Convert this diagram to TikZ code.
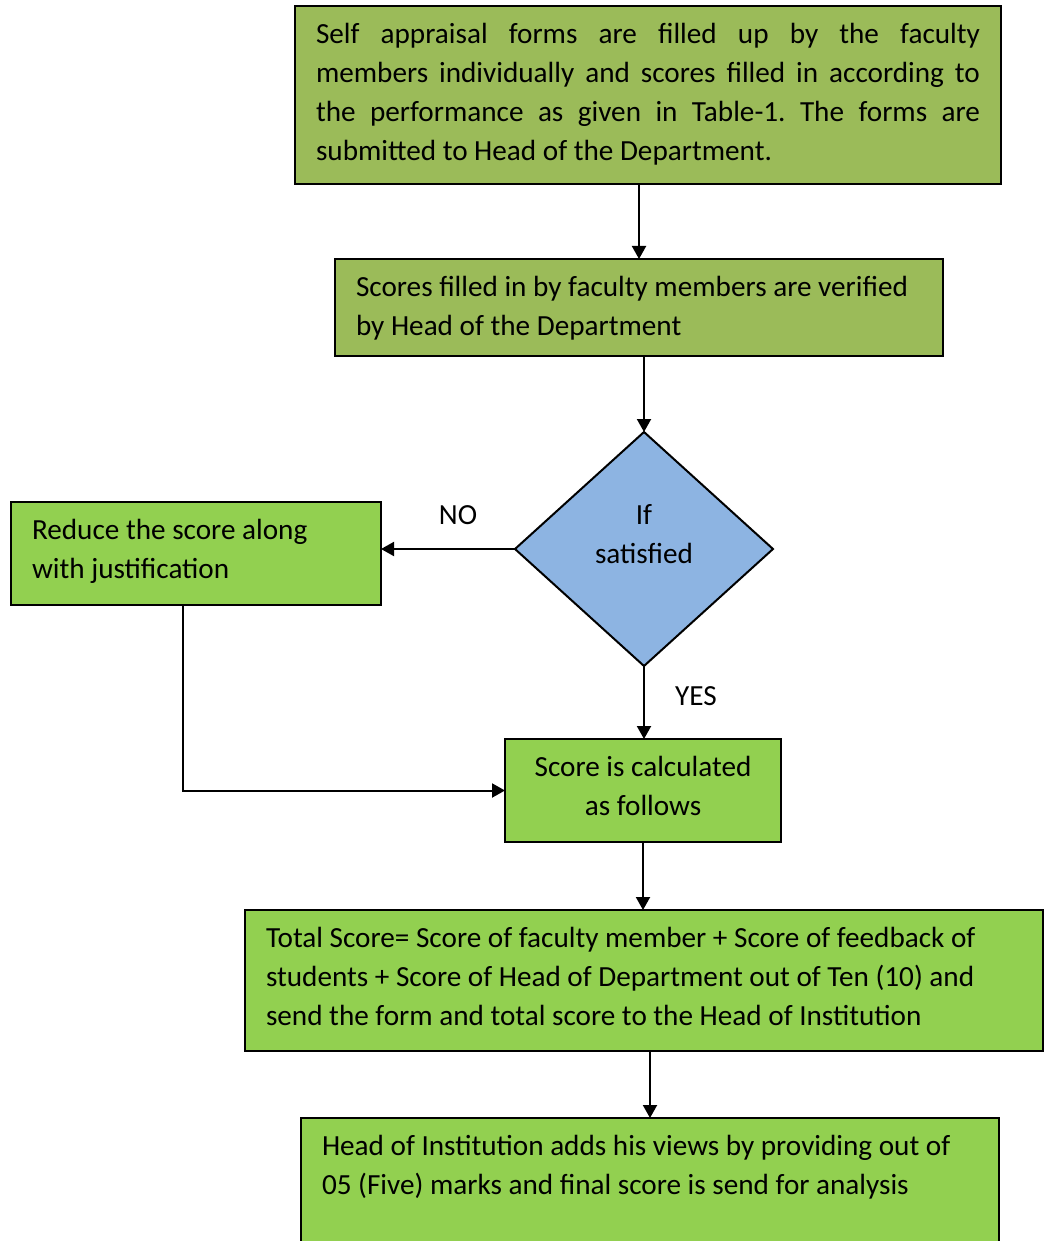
\documentclass[tikz,border=0pt]{standalone}
\usepackage{fontspec}
\setmainfont{Carlito}
\usetikzlibrary{arrows.meta,shapes.geometric}
\definecolor{olivegreen}{HTML}{9BBB59}
\definecolor{lightgreen}{HTML}{92D050}
\definecolor{diablue}{HTML}{8DB4E2}
\newcommand{\bx}[3]{\parbox[t][#1pt][t]{#2pt}{\frenchspacing\strut #3}}
\begin{document}
\begin{tikzpicture}[x=1pt,y=-1pt,
  every node/.style={font=\fontsize{29.2}{39}\selectfont},
  flowbox/.style={draw=black, line width=2pt, rectangle, anchor=north west, inner xsep=21pt, inner ysep=10pt, outer sep=0pt},
  arr/.style={line width=2pt, -{Triangle[length=13pt,width=14pt]}},
  lbl/.style={inner sep=0pt}]
\useasboundingbox (0,0) rectangle (1044,1241);
\node[flowbox, fill=olivegreen] (b1) at (295,6) {\bx{158}{664}{Self appraisal forms are filled up by the faculty\linebreak members individually and scores filled in according to\linebreak the performance as given in Table-1. The forms are\linebreak submitted to Head of the Department.}};
\node[flowbox, fill=olivegreen] (b2) at (335,259) {\bx{77}{566}{\raggedright Scores filled in by faculty members are verified\\ by Head of the Department}};
\node[diamond, draw=black, line width=2pt, fill=diablue, minimum width=258pt, minimum height=234pt, inner sep=0pt, outer sep=0pt] (dia) at (644,549) {};
\node[lbl, align=center] (diatext) at (644,534) {If\\satisfied};
\node[flowbox, fill=lightgreen] (b3) at (11,502) {\bx{83}{328}{\raggedright Reduce the score along\\ with justification}};
\node[flowbox, fill=lightgreen] (b4) at (505,739) {\bx{83}{234}{\centering Score is calculated\\ as follows}};
\node[flowbox, fill=lightgreen] (b5) at (245,910) {\bx{121}{756}{\raggedright Total Score= Score of faculty member + Score of feedback of\\ students + Score of Head of Department out of Ten (10) and\\ send the form and total score to the Head of Institution}};
\node[flowbox, fill=lightgreen] (b6) at (301,1118) {\bx{140}{656}{\raggedright Head of Institution adds his views by providing out of\\ 05 (Five) marks and final score is send for analysis}};
\node[lbl] (no) at (458,515) {NO};
\node[lbl] (yes) at (696,696) {YES};
\draw[arr] (b1.south -| b2.north) -- (b2.north);
\draw[arr] (b2.south -| dia.north) -- (dia.north);
\draw[arr] (dia.west) -- (dia.west -| b3.east);
\draw[arr] (dia.south) -- (dia.south |- b4.north);
\coordinate (c3) at ([xshift=172pt]b3.south west);
\draw[arr] (c3) |- (b4.west);
\draw[arr] (b4.south) -- (b4.south |- b5.north);
\draw[arr] (b5.south -| b6.north) -- (b6.north);
\end{tikzpicture}
\end{document}
